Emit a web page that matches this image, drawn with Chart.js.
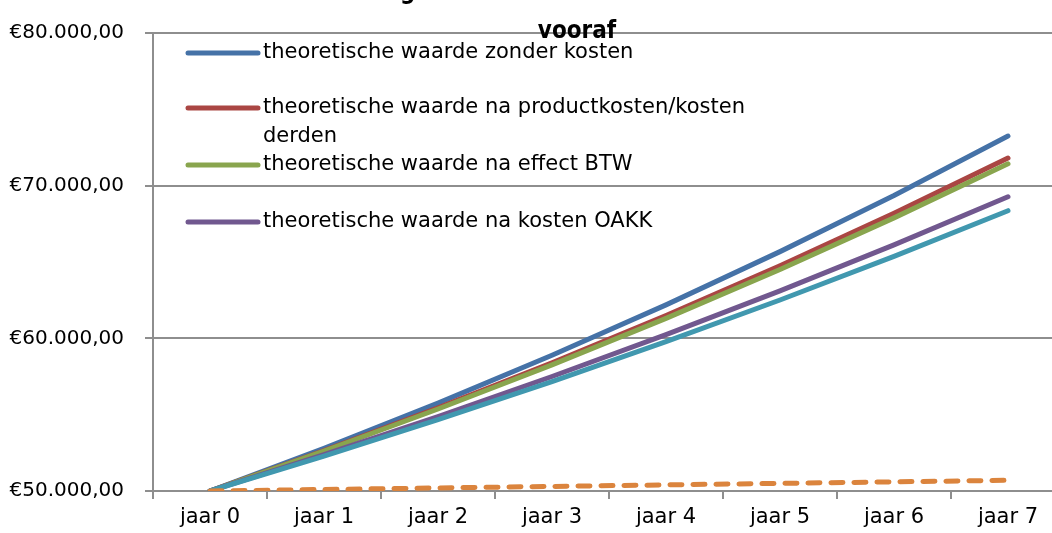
<!DOCTYPE html>
<html lang="nl">
<head>
    <meta charset="UTF-8">
    <title>Theoretische waarde</title>
    <script src="https://cdn.jsdelivr.net/npm/chart.js"></script>
    <style>
        body { margin: 0; overflow: hidden; background: #fff; }
        canvas { display: block; }
    </style>
</head>
<body>
    <canvas id="waardeChart" width="1070" height="533"></canvas>

    <script>
        // data
        const jaren = ['jaar 0', 'jaar 1', 'jaar 2', 'jaar 3', 'jaar 4', 'jaar 5', 'jaar 6', 'jaar 7'];
        const titleLines = ['Inleg €50.000 met BTW en kosten', 'vooraf'];

        const zonderKosten   = [50000, 52800, 55760, 58890, 62190, 65680, 69360, 73250];
        const naProductkosten = [50000, 52650, 55450, 58390, 61490, 64750, 68190, 71810];
        const naEffectBtw    = [50000, 52620, 55370, 58260, 61310, 64510, 67890, 71430];
        const naKostenOakk   = [50000, 52390, 54880, 57500, 60240, 63110, 66120, 69270];
        const naAlleKosten   = [50000, 52290, 54670, 57170, 59780, 62510, 65370, 68360];
        const kosten         = [50000, 50100, 50200, 50300, 50400, 50500, 50600, 50700];

        const yTicks = [50000, 60000, 70000, 80000];

        const labels = [
            'theoretische waarde zonder kosten',
            'theoretische waarde na productkosten/kosten derden',
            'theoretische waarde na effect BTW',
            'theoretische waarde na kosten OAKK',
            'theoretische waarde na alle kosten',
            'kosten'
        ];
        const colors = ['#4572A7', '#AA4643', '#89A54E', '#71588F', '#4198AF', '#DB843D'];
        const series = [zonderKosten, naProductkosten, naEffectBtw, naKostenOakk, naAlleKosten, kosten];
        const legendCount = 4;

        const gridColor = '#8e8e8e';

        function euro(v) {
            return '€' + String(v).replace(/\B(?=(\d{3})+(?!\d))/g, '.') + ',00';
        }

        // legend inside the plot area, like the spreadsheet original
        const innerLegend = {
            id: 'innerLegend',
            afterDraw(chart) {
                const ctx = chart.ctx;
                const area = chart.chartArea;
                const x0 = area.left + 35;
                const rows = [area.top + 20, area.top + 75, area.top + 132, area.top + 189];
                ctx.save();
                ctx.font = '21px "DejaVu Sans"';
                ctx.textBaseline = 'middle';
                for (let i = 0; i < legendCount; i++) {
                    const y = rows[i];
                    ctx.strokeStyle = colors[i];
                    ctx.lineWidth = 5;
                    ctx.lineCap = 'round';
                    ctx.beginPath();
                    ctx.moveTo(x0, y);
                    ctx.lineTo(x0 + 70, y);
                    ctx.stroke();
                    // wrap long labels
                    const words = labels[i].split(' ');
                    let line = '';
                    let ly = y;
                    ctx.fillStyle = '#000';
                    words.forEach(w => {
                        const test = line ? line + ' ' + w : w;
                        if (ctx.measureText(test).width > 510 && line) {
                            ctx.fillText(line, x0 + 75, ly);
                            line = w;
                            ly += 29;
                        } else {
                            line = test;
                        }
                    });
                    ctx.fillText(line, x0 + 75, ly);
                }
                ctx.restore();
            }
        };

        const titlePlugin = {
            id: 'cutTitle',
            afterDraw(chart) {
                const ctx = chart.ctx;
                ctx.save();
                ctx.font = 'bold 24px "DejaVu Sans Condensed", "DejaVu Sans"';
                ctx.fillStyle = '#000';
                ctx.textAlign = 'center';
                ctx.textBaseline = 'alphabetic';
                ctx.fillText(titleLines[0], 560, -1);
                ctx.fillText(titleLines[1], 577, 38);
                ctx.restore();
            }
        };

        new Chart(document.getElementById('waardeChart'), {
            type: 'line',
            data: {
                labels: jaren,
                datasets: series.map((d, i) => ({
                    label: labels[i],
                    data: d,
                    borderColor: colors[i],
                    borderWidth: 5,
                    borderCapStyle: 'round',
                    borderJoinStyle: 'round',
                    borderDash: i === 5 ? [12, 11] : [],
                    pointRadius: 0,
                    tension: 0,
                    fill: false,
                    order: series.length - i
                }))
            },
            options: {
                responsive: false,
                animation: false,
                devicePixelRatio: 1,
                layout: { padding: { top: 30, right: 5, left: 0, bottom: 0 } },
                plugins: {
                    legend: { display: false },
                    tooltip: { enabled: false }
                },
                scales: {
                    x: {
                        offset: true,
                        grid: {
                            offset: true,
                            drawOnChartArea: false,
                            color: gridColor,
                            lineWidth: 2,
                            tickLength: 8
                        },
                        border: { color: gridColor, width: 2 },
                        ticks: {
                            color: '#000',
                            font: { family: 'DejaVu Sans', size: 21 },
                            padding: 6,
                            maxRotation: 0
                        },
                        afterFit(scale) { scale.height = 42; }
                    },
                    y: {
                        min: 50000,
                        max: 80000,
                        afterBuildTicks(scale) {
                            scale.ticks = yTicks.map(v => ({ value: v }));
                        },
                        grid: {
                            color: gridColor,
                            lineWidth: 2,
                            tickLength: 8
                        },
                        border: { color: gridColor, width: 2 },
                        ticks: {
                            color: '#000',
                            font: { family: 'DejaVu Sans', size: 20 },
                            padding: 21,
                            callback: v => euro(v)
                        },
                        afterFit(scale) { scale.width = 153; }
                    }
                }
            },
            plugins: [innerLegend, titlePlugin]
        });
    </script>
</body>
</html>
